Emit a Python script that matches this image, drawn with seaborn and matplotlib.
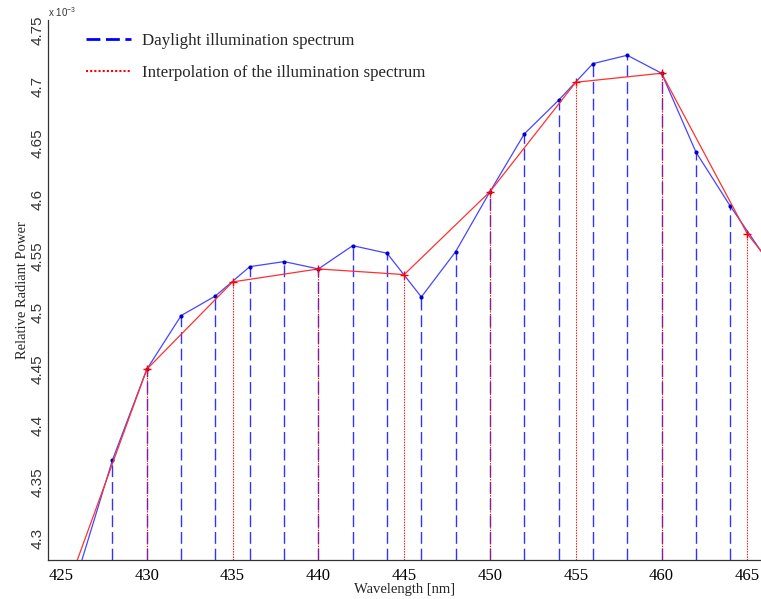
import numpy as np
import pandas as pd
import matplotlib
matplotlib.use('Agg')
import matplotlib.pyplot as plt
from matplotlib.lines import Line2D
import seaborn as sns

# values in units of 1e-3 (as on the axis)
wl_daylight = [426, 428, 430, 432, 434, 436, 438, 440, 442, 444, 446,
               448, 450, 452, 454, 456, 458, 460, 462, 464, 466]
pw_daylight = [4.270, 4.3695, 4.4497, 4.4972, 4.5146, 4.5405, 4.5450, 4.5385,
               4.5591, 4.5524, 4.5137, 4.5538, 4.6069, 4.6580, 4.6878, 4.7202,
               4.7276, 4.7117, 4.6420, 4.5942, 4.5497]
wl_interp = [425, 430, 435, 440, 445, 450, 455, 460, 465, 470]
pw_interp = [4.2413, 4.4497, 4.5270, 4.5385, 4.5335, 4.6069, 4.7037, 4.7117,
             4.5695, 4.4740]

xlim = (424.26, 465.8)
ylim = (4.2809, 4.7588)

sns.set_style('white')
plt.rcParams['font.family'] = ['Liberation Serif', 'DejaVu Serif']
plt.rcParams['mathtext.fontset'] = 'custom'
plt.rcParams['mathtext.rm'] = 'Liberation Sans'

day = pd.DataFrame({'wl': wl_daylight, 'pw': pw_daylight})
itp = pd.DataFrame({'wl': wl_interp, 'pw': pw_interp})

fig = plt.figure(figsize=(7.61, 5.99), dpi=100)
ax = fig.add_axes([0.0635, 0.0651, 0.9366, 0.9015])

blue = '#0000ff'
red = '#ff0000'

# stems
ax.vlines(day['wl'], ylim[0], day['pw'], colors=blue, linewidth=1.0,
          linestyles=(0, (8.5, 3.5)), alpha=0.8, zorder=1)
ax.vlines(itp['wl'], ylim[0], itp['pw'], colors=red, linewidth=0.8,
          linestyles=(0, (1.2, 1.2)), zorder=2)

sns.lineplot(data=day, x='wl', y='pw', ax=ax, sort=False, color='#4646ff',
             linewidth=0.9, marker='o', markersize=3, markeredgewidth=0,
             markerfacecolor='#0000cc', zorder=3)
sns.lineplot(data=itp, x='wl', y='pw', ax=ax, sort=False, color='#ff3030',
             linewidth=0.9, marker='+', markersize=6, markeredgewidth=1,
             markeredgecolor=red, zorder=4)

ax.set_xlim(*xlim)
ax.set_ylim(*ylim)
ax.set_xticks(np.arange(425, 466, 5))
ax.set_yticks(np.arange(4.30, 4.751, 0.05))
ax.set_yticklabels(['%g' % round(v, 2) for v in np.arange(4.30, 4.751, 0.05)],
                   rotation=90, va='center', family='Liberation Sans',
                   color='#404040')
ax.tick_params(direction='in', length=5, width=0.8, colors='#333333',
               labelsize=12, pad=4)
ax.tick_params(axis='x', pad=6, labelcolor='black')
ax.tick_params(axis='y', labelsize=11, pad=3)
for s in ['top', 'right']:
    ax.spines[s].set_visible(False)
for s in ['left', 'bottom']:
    ax.spines[s].set_color('#333333')
    ax.spines[s].set_linewidth(0.9)

ax.set_xlabel('Wavelength [nm]', fontsize=10.5, labelpad=-1)
ax.set_ylabel('Relative Radiant Power', fontsize=10.5, labelpad=1)
fig.text(48 / 761, 1 - 12 / 599, r'x 10$^{-3}$', fontsize=7, family='Liberation Sans',
         ha='left', va='center', color='#333333')

handles = [Line2D([], [], color=blue, linewidth=2, linestyle=(0, (5, 2))),
           Line2D([], [], color=red, linewidth=1.5, linestyle=(0, (1, 1)))]
ax.legend(handles, ['Daylight illumination spectrum',
                    'Interpolation of the illumination spectrum'],
          loc='upper left', bbox_to_anchor=(86 / 761, 1 - 33 / 599),
          bbox_transform=fig.transFigure, frameon=False, fontsize=12.2,
          handlelength=2.65, handletextpad=0.65, labelspacing=0.95,
          borderpad=0, borderaxespad=0)

fig.savefig('out.png', dpi=100, facecolor='white')
